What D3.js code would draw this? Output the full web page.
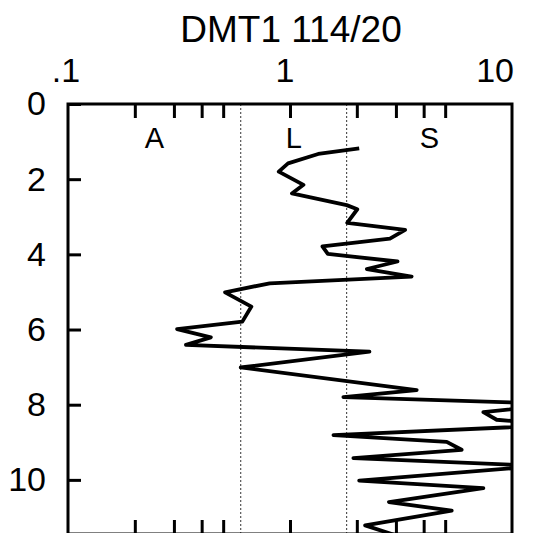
<!DOCTYPE html>
<html>
<head>
<meta charset="utf-8">
<script src="https://cdn.jsdelivr.net/npm/d3@7"></script>
<style>
  body { margin: 0; background: #fff; }
  text { font-family: "Liberation Sans Narrow", "Arial Narrow", sans-serif; fill: #000; }
</style>
</head>
<body>
<div id="wrapper"></div>
<script>
// depth (y) and ratio (x, log)
const depths = [1.18, 1.33, 1.58, 1.80, 2.15, 2.38, 2.69, 2.80, 3.16, 3.35, 3.58, 3.79, 3.99,
  4.19, 4.39, 4.59, 4.77, 5.01, 5.39, 5.79, 5.99, 6.21, 6.41, 6.59, 7.01, 7.61, 7.80, 7.98,
  8.20, 8.40, 8.54, 8.81, 8.99, 9.20, 9.42, 9.63, 10.02, 10.22, 10.59, 10.82, 11.21, 11.6]
const ratios = [2.05, 1.34, 0.98, 0.89, 1.15, 1.02, 1.80, 2.01, 1.81, 3.30, 2.82, 1.40, 1.48,
  3.05, 2.22, 3.53, 0.81, 0.51, 0.67, 0.61, 0.31, 0.44, 0.34, 2.28, 0.60, 3.72, 1.74, 16.4,
  7.43, 8.53, 16.4, 1.57, 5.08, 5.93, 1.93, 13.4, 2.05, 7.43, 2.79, 5.35, 2.18, 3.47]

const zoneLabels = ["A", "L", "S"]
const zoneBounds = [0.1, 0.6, 1.8, 10] // dotted lines at inner bounds
const xMajorTicks = [0.1, 1, 10]
const xMajorLabels = [".1", "1", "10"]
const xMinorTicks = [0.2, 0.3, 0.4, 0.5, 1, 2, 3, 4, 5]
const yTicks = [0, 2, 4, 6, 8, 10]
const title = "DMT1 114/20"

const dims = { width: 536, height: 533, margin: { top: 104, left: 68, right: 24, bottom: -1 } }
dims.boundWidth = dims.width - dims.margin.left - dims.margin.right
dims.boundHeight = dims.height - dims.margin.top - dims.margin.bottom

const svg = d3.select("#wrapper").append("svg")
  .attr("width", dims.width)
  .attr("height", dims.height)

const bound = svg.append("g")
  .attr("transform", `translate(${dims.margin.left},${dims.margin.top})`)

const x = d3.scaleLog().domain([0.1, 10]).range([0, dims.boundWidth])
const y = d3.scaleLinear().domain([0, 11.44]).range([0, dims.boundHeight])

bound.append("clipPath").attr("id", "plot")
  .append("rect").attr("width", dims.boundWidth).attr("height", dims.boundHeight)

// zone boundaries
bound.selectAll(".zone").data(zoneBounds.slice(1, -1)).join("line")
  .attr("x1", d => x(d)).attr("x2", d => x(d))
  .attr("y1", 0).attr("y2", dims.boundHeight)
  .attr("stroke", "#333").attr("stroke-width", 1).attr("stroke-dasharray", "2,2")

// zone letters, centred (geometrically) in each zone
bound.selectAll(".zlab").data(zoneLabels).join("text")
  .attr("x", (d, i) => x(Math.sqrt(zoneBounds[i] * zoneBounds[i + 1])))
  .attr("y", 44)
  .attr("text-anchor", "middle")
  .attr("font-size", 29)
  .text(d => d)

// profile line
const line = d3.line().x(d => x(d[0])).y(d => y(d[1]))
bound.append("path")
  .datum(ratios.map((r, i) => [r, depths[i]]))
  .attr("clip-path", "url(#plot)")
  .attr("d", line)
  .attr("fill", "none").attr("stroke", "#000")
  .attr("stroke-width", 3.8).attr("stroke-linejoin", "round")

// axes: ticks point inward
const topAxis = d3.axisTop(x).tickValues(xMinorTicks).tickSizeInner(-14).tickSizeOuter(0).tickFormat("")
bound.append("g").call(topAxis)
const bottomAxis = d3.axisBottom(x).tickValues(xMinorTicks).tickSizeInner(-14).tickSizeOuter(0).tickFormat("")
bound.append("g").attr("transform", `translate(0,${dims.boundHeight})`).call(bottomAxis)
const leftAxis = d3.axisLeft(y).tickValues(yTicks).tickSizeInner(-13).tickSizeOuter(0).tickPadding(22)
bound.append("g").call(leftAxis)
  .call(g => g.selectAll("text").attr("font-size", 34).attr("fill", "#000"))

bound.selectAll(".tick line").attr("stroke", "#000").attr("stroke-width", 3)
bound.selectAll(".domain").remove()

// frame
bound.append("rect")
  .attr("width", dims.boundWidth).attr("height", dims.boundHeight)
  .attr("fill", "none").attr("stroke", "#000").attr("stroke-width", 3)

// top labels
bound.selectAll(".xlab").data(xMajorTicks).join("text")
  .attr("x", (d, i) => i === 2 ? x(d) + 2 : x(d) - (i === 1 ? 5 : 2))
  .attr("y", -22)
  .attr("text-anchor", (d, i) => i === 2 ? "end" : "middle")
  .attr("font-size", 34)
  .text((d, i) => xMajorLabels[i])

svg.append("text")
  .attr("x", 291).attr("y", 42)
  .attr("text-anchor", "middle")
  .attr("font-size", 37)
  .style("font-family", "'Liberation Sans', Arial, sans-serif")
  .text(title)
</script>
</body>
</html>
